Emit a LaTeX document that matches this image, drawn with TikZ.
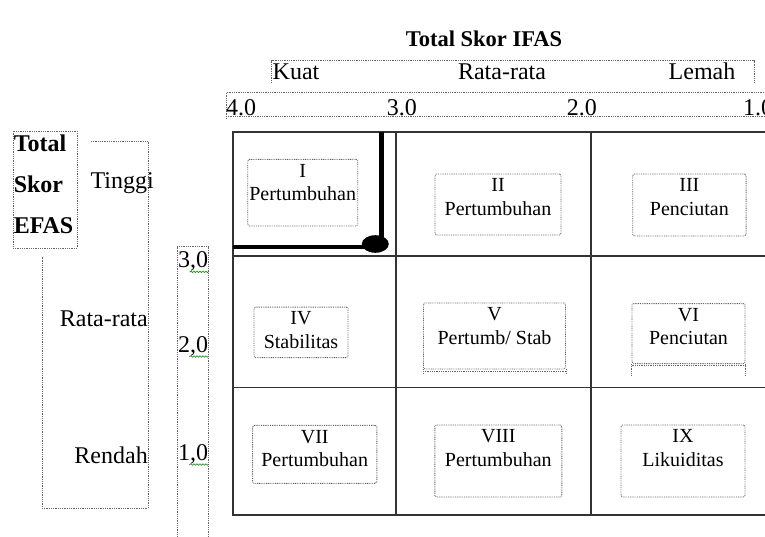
\documentclass[tikz,border=0pt]{standalone}
\usepackage{fontspec}
\setmainfont{Liberation Serif}
\usetikzlibrary{decorations.pathmorphing}

\begin{document}
\begin{tikzpicture}[x=1pt, y=-1pt]
  \tikzset{
    every node/.style={inner sep=0pt},
    dotln/.style={draw=black!60, line width=0.9pt, dash pattern=on 0.9pt off 0.9pt},
    qbox/.style={dotln, rounded corners=1.5pt},
    qtxt/.style={align=center, inner ysep=1.5pt, font=\fontsize{20}{23.5}\selectfont},
    lbl/.style={font=\fontsize{24}{28}\selectfont},
    gridln/.style={draw=black!80, line width=1.4pt},
    thickln/.style={line width=4.6pt},
    wavy/.style={draw=green!55!black, line width=0.6pt, decorate,
      decoration={snake, amplitude=0.8pt, segment length=3pt}}
  }
  \useasboundingbox (0,0) rectangle (765,537);
  \clip (0,0) rectangle (765,537);

  \def\xa{233}  \def\xb{396}  \def\xc{591}  \def\xd{790}
  \def\ya{132}  \def\yb{256}  \def\yc{387.5} \def\yd{515}

  % heading IFAS
  \node[font=\bfseries\fontsize{22.5}{26}\selectfont, anchor=base] (title) at (484,46.7) {Total Skor IFAS};
  \draw[dotln] (271.7,83) -- (271.7,60.7) -- (754,60.7) -- (754,83);
  \node[lbl, anchor=base west] (kuat) at (272.5,80) {Kuat};
  \node[lbl, anchor=base] (ratax) at (502,80) {Rata-rata};
  \node[lbl, anchor=base] (lemah) at (702,80) {Lemah};

  % scale IFAS
  \draw[dotln] (226,119) -- (226,92.7) -- (\xd,92.7);
  \draw[dotln] (226,116.8) -- (\xd,116.8);
  \foreach \i/\v/\px in {1/4.0/226, 2/3.0/386.7, 3/2.0/566.7, 4/1.0/743}
    \node[lbl, anchor=base west] (h\i) at (\px,116) {\v};

  % heading EFAS
  \node[dotln, minimum width=64, minimum height=117] (efasbox) at (45,189.5) {};
  \node[font=\bfseries\fontsize{24}{41}\selectfont, align=left, anchor=north west,
    inner xsep=1pt, inner ysep=4.4pt] (efas) at (efasbox.north west) {Total\\Skor\\EFAS};
  \draw[dotln] (91,141) -- (148,141) -- (148,508) -- (42,508) -- (42,256.7);
  \node[lbl, anchor=base east] (tinggi) at (154,189) {Tinggi};
  \node[lbl, anchor=base east] (ratay) at (148,326.7) {Rata-rata};
  \node[lbl, anchor=base east] (rendah) at (148,463) {Rendah};

  % scale EFAS
  \draw[dotln] (177.3,560) -- (177.3,246.7) -- (208.3,246.7) -- (208.3,560);
  \foreach \i/\v/\py in {1/{3,0}/267.3, 2/{2,0}/352, 3/{1,0}/460} {
    \node[lbl, anchor=base west] (v\i) at (178,\py) {\v};
    \draw[wavy] ([yshift=-4.5pt]v\i.base east) -- ++(-19,0);
  }

  % matrix
  \draw[gridln] (\xa,\ya) rectangle (\xd,\yd);
  \foreach \gx in {\xb,\xc} \draw[gridln] (\gx,\ya) -- (\gx,\yd);
  \foreach \gy in {\yb,\yc} \draw[gridln] (\xa,\gy) -- (\xd,\gy);
  \draw[thickln] (381.5,\ya) -- (381.5,243) (\xa,247) -- (372,247);
  \fill (375.3,244) ellipse [x radius=13.5, y radius=8.8];

  % cells
  \foreach \n/\cx/\cy/\w/\h/\rom/\txt in {
      1/302.7/192.7/110/66.7/I/Pertumbuhan,
      2/498/204.5/126/61/II/Pertumbuhan,
      3/689.4/205/113.3/62/III/Penciutan,
      4/301/332.3/94/50.5/IV/Stabilitas,
      5/494.5/336/142/66/V/{Pertumb/ Stab},
      6/688.5/333.6/113/60/VI/Penciutan,
      7/314.7/454.4/124.3/58/VII/Pertumbuhan,
      8/498.3/461/127/72/VIII/Pertumbuhan,
      9/683/461/124/72/IX/Likuiditas} {
    \node[qbox, minimum width=\w, minimum height=\h] (q\n) at (\cx,\cy) {};
    \node[qtxt, anchor=north] (t\n) at (q\n.north) {\strut\rom\\\txt};
  }
  \draw[dotln] (q5.south west) -- ++(0,4) (q5.south east) -- ++(0,4)
    ([yshift=-1.6pt]q5.south west) -- ([yshift=-1.6pt]q5.south east);
  \draw[dotln] (q6.south west) -- ++(0,12.5) (q6.south east) -- ++(0,12.5)
    ([yshift=-1.6pt]q6.south west) -- ([yshift=-1.6pt]q6.south east);
\end{tikzpicture}
\end{document}
